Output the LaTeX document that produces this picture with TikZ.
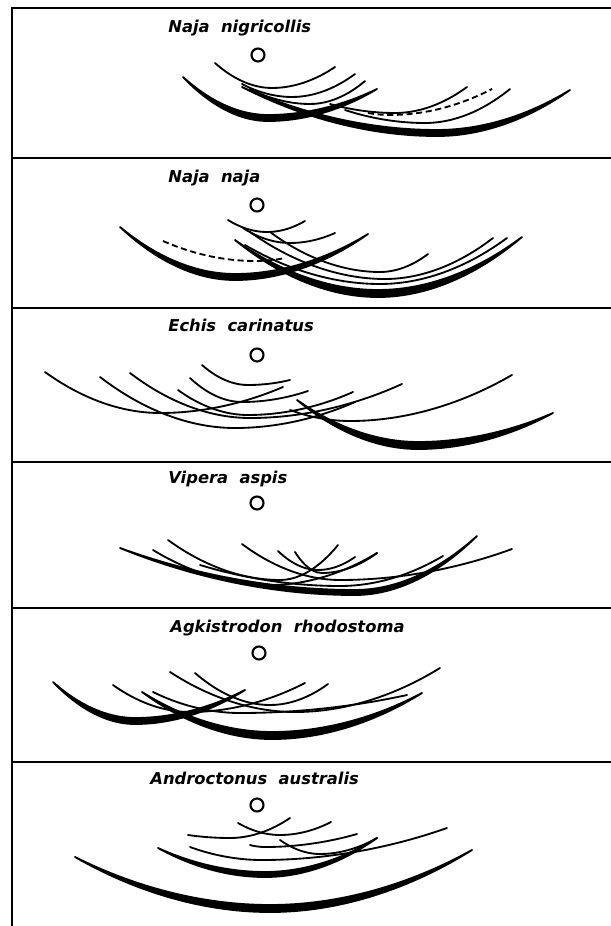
\documentclass[tikz,border=0pt]{standalone}
\usepackage{fontspec}
\newfontfamily\lblfont{DejaVu Sans}
\usetikzlibrary{calc}

% crescent: left end, bend (upper edge), right end, depth at bend
\newcommand{\band}[4]{%
  \filldraw[thk] (#1) parabola bend (#2) (#3)
    parabola bend ($(#2)+(0,#4)$) (#1) -- cycle;}

\begin{document}
\begin{tikzpicture}[
  x=0.02cm, y=-0.02cm,
  lbl/.style={anchor=base west, inner sep=0pt,
              font=\lblfont\bfseries\itshape\fontsize{9.3}{10}\selectfont},
  well/.style={draw, circle, line width=1.2pt, inner sep=0pt,
               minimum size=0.26cm},
  frm/.style={line width=1.1pt},
  prc/.style={line width=1.05pt, line cap=round},
  thk/.style={line width=1.05pt, line join=round, line cap=round},
  dsh/.style={prc, line cap=butt, dash pattern=on 3.5pt off 2pt},
]
\useasboundingbox (0,0) rectangle (611,926);

% frame
\draw[frm] (12,926) -- (12,8) -- (611,8);
\draw[frm] (12,158) -- (611,158);
\draw[frm] (12,308) -- (611,308);
\draw[frm] (12,462) -- (611,462);
\draw[frm] (12,608) -- (611,608);
\draw[frm] (12,762) -- (611,762);

% labels and wells
\node[lbl]  (n1) at (168,33)  {Naja\ \ nigricollis};
\node[lbl]  (n2) at (168,182) {Naja\ \ naja};
\node[lbl]  (n3) at (168,331) {Echis\ \ carinatus};
\node[lbl]  (n4) at (168,483) {Vipera\ \ aspis};
\node[lbl]  (n5) at (170,632) {Agkistrodon\ \ rhodostoma};
\node[lbl]  (n6) at (150,784) {Androctonus\ \ australis};
\node[well] (w1) at (258,55)  {};
\node[well] (w2) at (257,205) {};
\node[well] (w3) at (257,355) {};
\node[well] (w4) at (257,503) {};
\node[well] (w5) at (259,653) {};
\node[well] (w6) at (257,805) {};

% Naja nigricollis
\band{183,77}{268,115}{377,89}{6}
\band{242,87}{437,130}{570,90}{6}
\draw[prc] (215,63) parabola bend (272,88) (335,67);
\draw[prc] (242,84) parabola bend (292,97) (355,74);
\draw[prc] (250,89) parabola bend (310,104) (365,81);
\draw[prc] (330,104) parabola bend (395,113) (467,87);
\draw[dsh] (368,113) parabola bend (390,115) (492,89);
\draw[prc] (345,110) parabola bend (425,123) (510,89);

% Naja naja
\band{120,227}{235,274}{368,234}{6}
\band{235,240}{378,290}{522,237}{7}
\draw[dsh] (163,241) parabola bend (255,261) (285,258);
\draw[prc] (228,220) parabola bend (267,232) (305,221);
\draw[prc] (243,228) parabola bend (290,243) (335,233);
\draw[prc] (270,232) parabola bend (380,272) (428,254);
\draw[prc] (250,232) parabola bend (385,279) (493,238);
\draw[prc] (245,245) parabola bend (380,284) (507,238);

% Echis carinatus
\band{297,400}{418,442}{553,413}{7}
\draw[prc] (202,365) parabola bend (248,385) (290,380);
\draw[prc] (190,378) parabola bend (242,402) (308,391);
\draw[prc] (178,390) parabola bend (248,415) (353,392);
\draw[prc] (45,372) parabola bend (160,413) (283,387);
\draw[prc] (100,377) parabola bend (235,428) (355,402);
\draw[prc] (130,373) parabola bend (250,418) (402,384);
\draw[prc] (290,410) parabola bend (350,421) (512,375);

% Vipera aspis
\band{120,548}{355,590}{477,536}{5}
\draw[prc] (153,550) parabola bend (270,585) (377,553);
\draw[prc] (168,540) parabola bend (280,580) (338,545);
\draw[prc] (242,544) parabola bend (340,580) (512,549);
\draw[prc] (278,551) parabola bend (318,570) (355,557);
\draw[prc] (295,552) parabola bend (322,573) (377,553);
\draw[prc] (200,565) parabola bend (340,586) (443,556);

% Agkistrodon rhodostoma
\band{53,682}{135,718}{245,690}{6}
\band{142,692}{272,732}{422,693}{7}
\draw[prc] (170,672) parabola bend (295,712) (440,668);
\draw[prc] (195,673) parabola bend (270,705) (328,684);
\draw[prc] (113,685) parabola bend (190,712) (305,683);
\draw[prc] (153,692) parabola bend (240,713) (407,695);

% Androctonus australis
\band{75,857}{270,905}{472,850}{7}
\band{158,848}{265,872}{377,838}{5}
\draw[prc] (188,835) parabola bend (230,838) (290,818);
\draw[prc] (238,823) parabola bend (280,835) (331,822);
\draw[prc] (250,845) parabola bend (265,847) (357,834);
\draw[prc] (280,840) parabola bend (320,854) (377,838);
\draw[prc] (190,847) parabola bend (262,860) (447,828);
\end{tikzpicture}
\end{document}
